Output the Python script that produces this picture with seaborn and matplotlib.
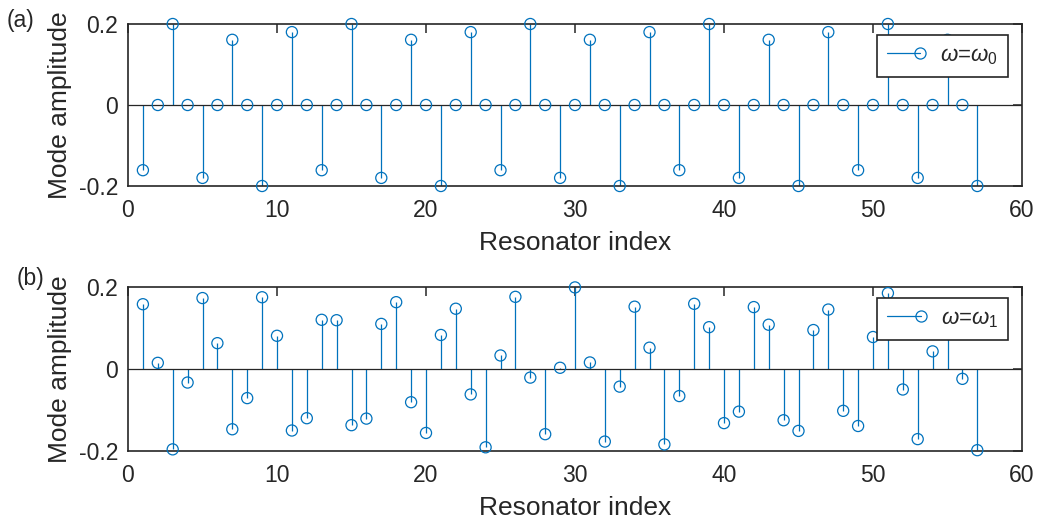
import numpy as np
import matplotlib
matplotlib.use("Agg")
import matplotlib.pyplot as plt
import seaborn as sns
import pandas as pd
from matplotlib.lines import Line2D
from matplotlib.legend_handler import HandlerLine2DCompound

# ---------------- data ----------------
index = list(range(1, 58))
mode_w0 = [-0.161, 0, 0.2, 0, -0.18, 0, 0.161, 0, -0.2, 0, 0.18, 0,
           -0.161, 0, 0.2, 0, -0.18, 0, 0.161, 0, -0.2, 0, 0.18, 0,
           -0.161, 0, 0.2, 0, -0.18, 0, 0.161, 0, -0.2, 0, 0.18, 0,
           -0.161, 0, 0.2, 0, -0.18, 0, 0.161, 0, -0.2, 0, 0.18, 0,
           -0.161, 0, 0.2, 0, -0.18, 0, 0.161, 0, -0.2]
mode_w1 = [0.158, 0.015, -0.196, -0.033, 0.173, 0.063, -0.147, -0.071, 0.175, 0.081,
           -0.150, -0.120, 0.120, 0.119, -0.137, -0.121, 0.110, 0.163, -0.081, -0.156,
           0.083, 0.147, -0.062, -0.191, 0.033, 0.176, -0.021, -0.159, 0.003, 0.199,
           0.016, -0.177, -0.043, 0.152, 0.052, -0.184, -0.066, 0.159, 0.102, -0.132,
           -0.104, 0.151, 0.108, -0.125, -0.151, 0.095, 0.145, -0.102, -0.139, 0.078,
           0.185, -0.050, -0.171, 0.043, 0.12, -0.024, -0.198]
legend_labels = [r'$\omega$=$\omega_0$', r'$\omega$=$\omega_1$']
panel_labels = ['(a)', '(b)']
xticks = [0, 10, 20, 30, 40, 50, 60]
yticks = [-0.2, 0, 0.2]
ytick_labels = ['-0.2', '0', '0.2']

# ---------------- style ----------------
sns.set_theme(style="white")
TXT = '#262626'
BLUE = '#0072BD'
plt.rcParams['font.family'] = ['Liberation Sans', 'DejaVu Sans']
plt.rcParams['mathtext.fontset'] = 'custom'
plt.rcParams['mathtext.rm'] = 'Liberation Sans'
plt.rcParams['mathtext.it'] = 'Liberation Sans:italic'
plt.rcParams['mathtext.bf'] = 'Liberation Sans:bold'
plt.rcParams['text.color'] = TXT
plt.rcParams['axes.labelcolor'] = TXT
plt.rcParams['xtick.color'] = TXT
plt.rcParams['ytick.color'] = TXT


class StemHandler(HandlerLine2DCompound):
    def get_xdata(self, legend, xdescent, ydescent, width, height, fontsize):
        xdata = np.array([-xdescent, -xdescent + width])
        return xdata, np.array([-xdescent + width])


fig = plt.figure(figsize=(10.37, 5.23), dpi=100)
W, H = 1037, 523
boxes = [(128, 24, 1022, 186), (128, 287, 1022, 451)]
series = [mode_w0, mode_w1]
label_pos = [(21, 20), (31, 278)]

for k, (box, vals) in enumerate(zip(boxes, series)):
    x0, y0, x1, y1 = box
    ax = fig.add_axes([x0 / W, 1 - y1 / H, (x1 - x0) / W, (y1 - y0) / H])
    df = pd.DataFrame({'Resonator index': index, 'Mode amplitude': vals})
    ax.vlines(df['Resonator index'], 0, df['Mode amplitude'], color=BLUE, lw=0.9, zorder=2)
    ax.axhline(0, color=TXT, lw=0.9, zorder=2.5)
    sns.scatterplot(data=df, x='Resonator index', y='Mode amplitude', ax=ax,
                    marker='o', s=64, facecolor='none', edgecolor=BLUE,
                    linewidth=0.9, zorder=3, clip_on=False, legend=False)
    ax.set_xlim(0, 60)
    ax.set_ylim(-0.2, 0.2)
    ax.set_xticks(xticks)
    ax.set_yticks(yticks)
    ax.set_yticklabels(ytick_labels)
    ax.tick_params(direction='in', length=6.5, width=1.1, top=True, right=True,
                   labelsize=16.5)
    ax.tick_params(axis='x', pad=9.5)
    ax.tick_params(axis='y', pad=7)
    for sp in ax.spines.values():
        sp.set_color(TXT)
        sp.set_linewidth(1.2)
        sp.set_visible(True)
    ax.set_xlabel('Resonator index', fontsize=19, labelpad=6)
    ax.set_ylabel('Mode amplitude', fontsize=19, labelpad=5)
    handle = Line2D([], [], color=BLUE, lw=0.9, marker='o', mfc='none',
                    mec=BLUE, ms=8, mew=0.9)
    leg = ax.legend([handle], [legend_labels[k]], handler_map={handle: StemHandler()},
                    loc='upper right', bbox_to_anchor=(1 - 14 / (x1 - x0), 1 - 11 / (y1 - y0)),
                    fontsize=16, frameon=True, fancybox=False, framealpha=1,
                    edgecolor=TXT, borderpad=0.45, handlelength=1.5, handletextpad=0.9,
                    borderaxespad=0)
    leg.get_frame().set_linewidth(1.2)
    fig.text(label_pos[k][0] / W, 1 - label_pos[k][1] / H, panel_labels[k],
             fontsize=16.5, ha='center', va='center', color=TXT)

fig.savefig('out.png', dpi=100)
